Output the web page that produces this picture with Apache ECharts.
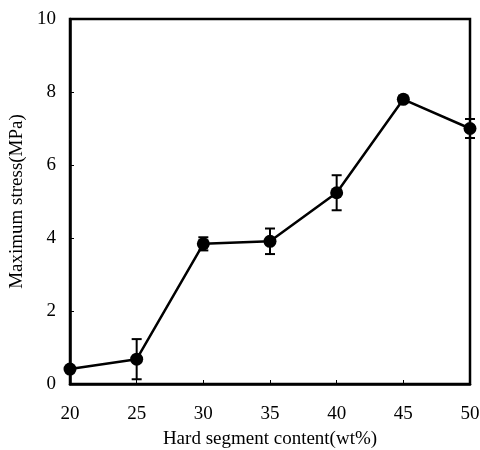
<!DOCTYPE html>
<html>
<head>
<meta charset="utf-8">
<script src="https://cdn.jsdelivr.net/npm/echarts@6/dist/echarts.min.js"></script>
<style>
  html, body { margin: 0; padding: 0; background: #fff; }
  #box { width: 480px; height: 450px; }
</style>
</head>
<body>
<div id="box"></div>
<script>
// hard segment content (wt%)
const content = [20, 25, 30, 35, 40, 45, 50]
// maximum stress (MPa)
const stress = [0.41, 0.68, 3.84, 3.91, 5.24, 7.80, 7.00]
// error bar half-widths (MPa)
const stressErr = [0.08, 0.55, 0.18, 0.35, 0.48, 0.10, 0.26]

const FONT = '"Liberation Serif", "Times New Roman", serif'

const chart = echarts.init(document.getElementById('box'))

const errData = content.map((x, i) => [x, stress[i] - stressErr[i], stress[i] + stressErr[i]])

chart.setOption({
    animation: false,
    backgroundColor: '#fff',
    grid: {
        left: 70, right: 10, top: 19, bottom: 66,
        outerBoundsMode: 'none',
        show: true, borderColor: '#000', borderWidth: 2.5, backgroundColor: 'transparent'
    },
    xAxis: {
        type: 'value',
        min: 20, max: 50, interval: 5,
        name: 'Hard segment content(wt%)',
        nameLocation: 'middle',
        nameGap: 46,
        nameTextStyle: { fontFamily: FONT, fontSize: 19, color: '#000' },
        axisLine: { lineStyle: { color: '#000', width: 2.5 } },
        axisTick: { inside: true, length: 4, lineStyle: { color: '#000', width: 1 } },
        axisLabel: { fontFamily: FONT, fontSize: 19, color: '#000', margin: 21 },
        splitLine: { show: false }
    },
    yAxis: {
        type: 'value',
        min: 0, max: 10, interval: 2,
        name: 'Maximum stress(MPa)',
        nameLocation: 'middle',
        nameGap: 39,
        nameTextStyle: { fontFamily: FONT, fontSize: 19, color: '#000' },
        axisLine: { lineStyle: { color: '#000', width: 2.5 } },
        axisTick: { inside: true, length: 4, lineStyle: { color: '#000', width: 1 } },
        axisLabel: { fontFamily: FONT, fontSize: 19, color: '#000', margin: 14 },
        splitLine: { show: false }
    },
    series: [
        {
            type: 'line',
            data: content.map((x, i) => [x, stress[i]]),
            symbol: 'circle',
            symbolSize: 13,
            itemStyle: { color: '#000' },
            lineStyle: { color: '#000', width: 2.5 },
            z: 3
        },
        {
            type: 'custom',
            data: errData,
            z: 4,
            renderItem: (params, api) => {
                const x = api.value(0)
                const lo = api.coord([x, api.value(1)])
                const hi = api.coord([x, api.value(2)])
                const w = 5
                const style = { stroke: '#000', lineWidth: 2 }
                return {
                    type: 'group',
                    children: [
                        { type: 'line', shape: { x1: lo[0], y1: lo[1], x2: hi[0], y2: hi[1] }, style },
                        { type: 'line', shape: { x1: lo[0] - w, y1: lo[1], x2: lo[0] + w, y2: lo[1] }, style },
                        { type: 'line', shape: { x1: hi[0] - w, y1: hi[1], x2: hi[0] + w, y2: hi[1] }, style }
                    ]
                }
            }
        }
    ]
})
</script>
</body>
</html>
